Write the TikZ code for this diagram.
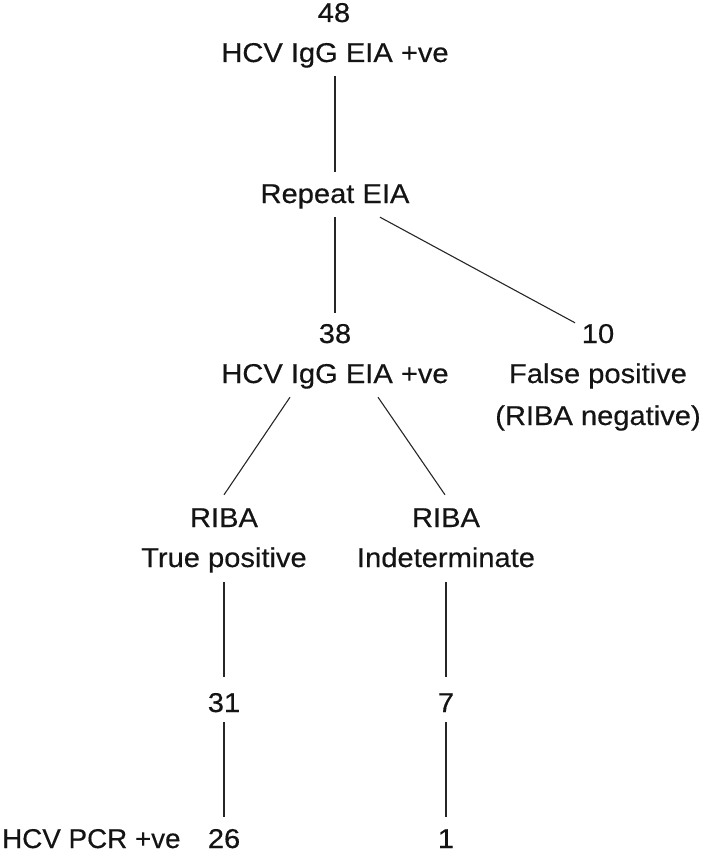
\documentclass[tikz,border=0pt]{standalone}
\usepackage{fontspec}
\usepackage{graphicx}
\newfontfamily\diagfont{Liberation Sans}[FakeStretch=1.07,FakeBold=0.4]
\usetikzlibrary{calc}
\begin{document}
\begin{tikzpicture}[x=1pt,y=-1pt,
  lbl/.style={inner sep=0pt, text height=20pt, text depth=6pt, anchor=base,
    font=\diagfont\fontsize{27.2}{33}\selectfont, text=black!92},
  lastrow/.style={lbl, text depth=0pt},
  link/.style={draw=black!85, line width=1.1pt}]
\useasboundingbox (0,0) rectangle (704,853);
% nodes
\node[lbl] (n48) at (334,22) {48};
\node[lbl] (hcv1) at (335,62) {HCV IgG EIA +ve};
\node[lbl] (repeat) at (335,203) {Repeat EIA};
\node[lbl] (n38) at (335,343) {38};
\node[lbl] (hcv2) at (335,383) {HCV IgG EIA +ve};
\node[lbl] (n10) at (598,343) {10};
\node[lbl] (fp) at (598,383) {False positive};
\node[lbl] (ribaneg) at (598,425) {(RIBA negative)};
\node[lbl] (riba1) at (224,527) {RIBA};
\node[lbl] (tp) at (224,567) {True positive};
\node[lbl] (riba2) at (446,527) {RIBA};
\node[lbl] (ind) at (446,567) {Indeterminate};
\node[lbl] (n31) at (224,712) {31};
\node[lbl] (n7) at (446,712) {7};
\node[lastrow] (n26) at (224,848) {26};
\node[lastrow] (n1) at (446,848) {1};
\node[lastrow, anchor=base west] (pcr) at (2,848) {\scalebox{0.955}[1]{HCV PCR +ve}};
% connectors
\draw[link, shorten <=8pt, shorten >=11pt] (hcv1.south) -- (repeat.north);
\draw[link, shorten <=8pt, shorten >=10pt] (repeat.south) -- (n38.north);
\draw[link] ([xshift=45pt,yshift=-8pt]repeat.south) -- ([xshift=-23pt]n10.north);
\draw[link] ([xshift=-45pt,yshift=-8pt]hcv2.south) -- ([yshift=12pt]riba1.north);
\draw[link] ([xshift=43pt,yshift=-8pt]hcv2.south) -- ([xshift=-1pt,yshift=12pt]riba2.north);
\draw[link, shorten <=9pt, shorten >=15pt] (tp.south) -- (n31.north);
\draw[link, shorten <=9pt, shorten >=15pt] (ind.south) -- (n7.north);
\draw[link, shorten <=4pt, shorten >=11pt] (n31.south) -- (n26.north);
\draw[link, shorten <=4pt, shorten >=11pt] (n7.south) -- (n1.north);
\end{tikzpicture}
\end{document}
